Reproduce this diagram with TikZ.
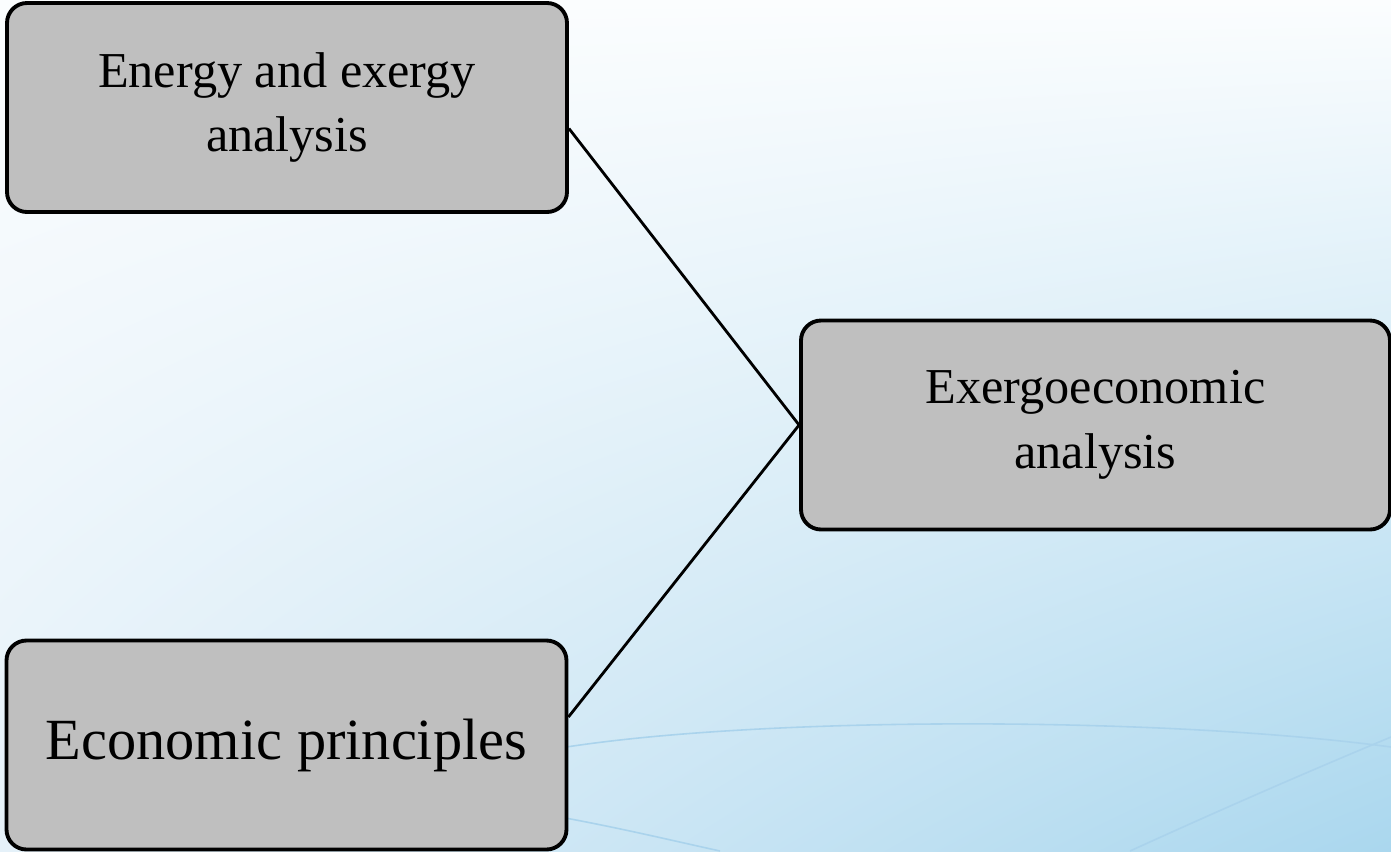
\documentclass[tikz,border=0pt]{standalone}
\usepackage{fontspec}
\setmainfont{Liberation Serif}
\usetikzlibrary{shadings}

\definecolor{boxgray}{RGB}{191,191,191}
\definecolor{skytop}{RGB}{251,253,254}
\definecolor{skylow}{RGB}{229,241,249}
\definecolor{skydeep}{RGB}{170,215,238}
\definecolor{arcblue}{RGB}{170,211,236}

\tikzset{
  stage/.style={draw=black, line width=1.1pt, fill=boxgray, rounded corners=0.2cm,
    align=center, minimum width=5.6cm, minimum height=2.09cm, inner sep=0,
    font=\fontsize{14.3}{18.4}\selectfont},
  link/.style={draw=black, line width=0.8pt},
  swoosh/.style={draw=arcblue, line width=0.45pt}
}

\begin{document}
\begin{tikzpicture}
% slide background
\shade[upper left=skytop, upper right=skytop, lower left=skylow, lower right=skydeep]
  (0,0) rectangle (13.91,-8.51);
\useasboundingbox (0,0) rectangle (13.91,-8.51);
\draw[swoosh] (5.6,-7.48) .. controls (7.6,-7.16) and (11.6,-7.16) .. (13.91,-7.47);
\draw[swoosh] (11.3,-8.51) .. controls (12.2,-8.1) and (13.0,-7.75) .. (13.91,-7.37);
\draw[swoosh] (5.6,-8.17) .. controls (6.2,-8.28) and (6.7,-8.4) .. (7.2,-8.51);

% stages
\node[stage] (energy) at (2.87,-1.075) {Energy and exergy\\analysis};
\node[stage, minimum width=5.89cm] (exergo) at (10.955,-4.25) {Exergoeconomic\\analysis};
\node[stage, font=\fontsize{16.6}{20}\selectfont] (econ) at (2.865,-7.45) {Economic principles};

% links
\draw[link] ([yshift=-0.21cm]energy.east) -- (exergo.west);
\draw[link] ([yshift=0.28cm]econ.east) -- (exergo.west);

\end{tikzpicture}
\end{document}
